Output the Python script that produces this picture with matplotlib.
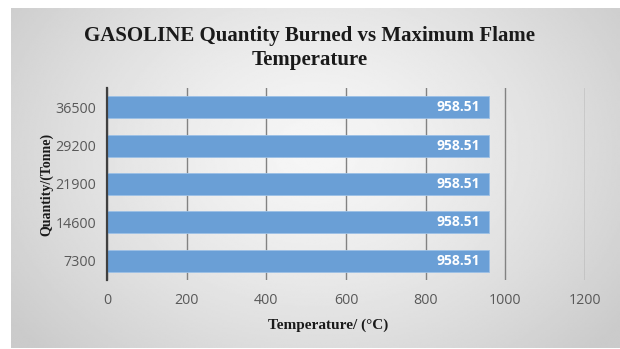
import numpy as np
import matplotlib
matplotlib.use("Agg")
import matplotlib.pyplot as plt

quantities = ["7300", "14600", "21900", "29200", "36500"]
temperatures = [958.51, 958.51, 958.51, 958.51, 958.51]
x_ticks = [0, 200, 400, 600, 800, 1000, 1200]

title = "GASOLINE Quantity Burned vs Maximum Flame\nTemperature"
x_label = "Temperature/ (\u00b0C)"
y_label = "Quantity/(Tonne)"

W, H = 620, 349
fig = plt.figure(figsize=(W / 100, H / 100), dpi=100)
fig.patch.set_facecolor("white")

# Chart area with a radial grey gradient
bg = fig.add_axes([11 / W, 1 / H, (W - 11) / W, (H - 8 - 1) / H])
bg.set_axis_off()
ny, nx = 200, 360
yy, xx = np.mgrid[0:ny, 0:nx]
cx, cy = nx * 0.5, ny * 0.42
r = np.sqrt(((xx - cx) / (nx * 0.62)) ** 2 + ((yy - cy) / (ny * 0.85)) ** 2)
r = np.clip(r, 0, 1)
shade = 0.965 - 0.17 * r ** 1.4
bg.imshow(shade, cmap="gray", vmin=0, vmax=1, aspect="auto",
          extent=[0, 1, 0, 1], interpolation="bilinear")
bg.set_xlim(0, 1)
bg.set_ylim(0, 1)

ax = fig.add_axes([107 / W, 1 - 280 / H, (585 - 107) / W, (280 - 88) / H])
ax.patch.set_alpha(0)

pos = np.arange(len(quantities))
bars = ax.barh(pos, temperatures, height=0.57, color="#6a9fd6",
               edgecolor="#9cc0e6", linewidth=0.6, zorder=3)

for p, v in zip(pos, temperatures):
    ax.text(v - 22, p, f"{v:.2f}", ha="right", va="center", color="white",
            fontsize=10, fontweight="bold", family="Open Sans", zorder=4)

ax.set_xlim(0, 1200)
ax.set_ylim(-0.5, 4.5)
ax.set_xticks(x_ticks)
ax.set_yticks(pos)
ax.set_yticklabels(quantities)
ax.tick_params(axis="both", length=0, colors="#595959", labelsize=10.3,
               labelfontfamily="Open Sans")
ax.tick_params(axis="x", pad=9)
ax.tick_params(axis="y", pad=8)

ax.grid(axis="x", color="#828282", linewidth=1.0, zorder=1)
for s in ["top", "right", "bottom"]:
    ax.spines[s].set_visible(False)
ax.spines["left"].set_color("#404040")
ax.spines["left"].set_linewidth(1.6)
ax.spines["left"].set_zorder(5)

ax.set_xlabel(x_label, family="Liberation Serif", fontweight="bold",
              fontsize=11, color="#1a1a1a")
ax.xaxis.set_label_coords((328 - 107) / (585 - 107), -0.2)
ax.set_ylabel(y_label, family="Liberation Serif", fontweight="bold",
              fontsize=10, color="#1a1a1a", labelpad=1)

fig.text(0.5, 1 - 48 / H, title, ha="center", va="center",
         family="Liberation Serif", fontweight="bold", fontsize=15,
         color="#1a1a1a", linespacing=1.2)

fig.savefig("out.png", dpi=100)
